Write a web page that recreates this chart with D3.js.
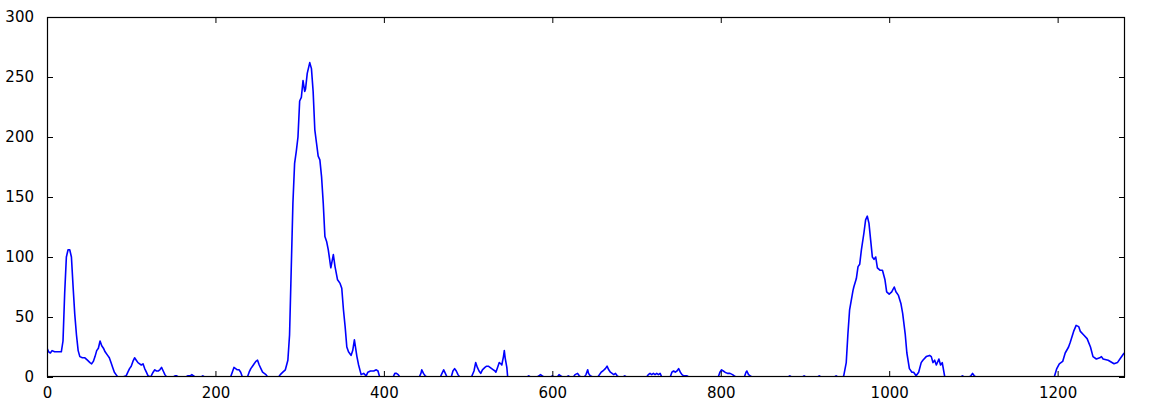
<!DOCTYPE html>
<html>
<head>
<meta charset="utf-8">
<script src="https://cdn.jsdelivr.net/npm/d3@7/dist/d3.min.js"></script>
<style>
  html, body { margin: 0; padding: 0; background: #fff; }
  svg { display: block; }
  text { font-family: "DejaVu Sans", sans-serif; font-size: 15px; fill: #000; }
</style>
</head>
<body>
<svg id="chart" width="1151" height="416"></svg>
<script>
// ---- data ----
const xValues = [
  0,2,4,6,9,13,17,19,21,23,25,27,29,31,33,35,37,39,42,45,48,51,53,55,57,59,61,63,65,67,69,72,74,76,78,80,82,84,90,94,96,98,100,102,104,106,108,110,112,114,116,118,120,123,126,128,130,132,134,136,138,140,142,
  146,150,152,154,156,165,167,170,172,174,176,183,185,187,218,220,222,224,226,228,230,232,238,240,242,244,246,248,250,252,254,256,258,260,262,275,
  277,280,283,286,288,290,292,294,296,298,300,302,304,306,307,309,312,314,316,318,320,322,324,326,328,330,332,334,337,340,342,345,348,350,352,354,356,358,361,363,365,368,370,373,376,379,381,384,388,391,393,395,
  411,413,415,417,419,442,444,445,447,449,451,467,469,471,473,475,480,482,484,486,488,490,504,507,509,511,513,515,517,520,522,524,526,528,530,532,533,535,537,539,540,542,543,544,546,547,
  570,572,574,582,584,586,588,590,598,600,602,606,608,610,612,617,619,621,625,627,630,632,634,
  638,640,642,643,645,648,654,656,658,660,663,665,667,669,671,673,675,677,679,684,686,688,712,714,716,718,720,722,724,726,728,730,740,742,744,746,748,750,752,754,756,760,762,797,799,801,803,805,808,811,814,816,818,828,830,831,833,835,837,880,882,884,897,899,901,915,917,919,935,937,939,945,
  946,949,951,953,957,958,961,963,965,967,970,972,974,976,978,980,982,984,986,989,992,995,997,1000,1003,1006,1008,1011,1014,1016,1019,1021,1024,1027,1029,1032,1035,1038,1040,1044,1048,1050,1052,1054,1056,1059,1061,1063,1066,
  1085,1087,1089,1095,1097,1099,1101,1103,1196,
  1199,1202,1206,1209,1213,1215,1219,1222,1225,1227,1231,1235,1239,1242,1246,1250,1252,1254,1260,1267,1271,1275,1279
];
const yValues = [
  24,21,20,22,21,21,21,30,70,100,106,106,100,75,52,35,22,17,16,16,14,12,11,13,17,22,24,30,26,24,21,18,16,12,8,4,2,0,0,1,4,7,9,13,16,14,12,11,10,11,7,4,1,0,4,6,5,5,6,8,5,2,0,
  0,0,1,1,0,0,1,1,2,1,0,0,1,0,0,4,8,7,6,6,4,0,0,4,7,9,11,13,14,10,7,4,3,2,0,0,
  2,4,6,14,35,90,145,178,188,200,230,233,247,238,240,253,262,257,238,206,195,184,181,167,145,117,113,106,91,102,92,81,78,74,56,42,25,21,18,22,31,17,10,2,3,1,4,5,5,6,5,0,
  0,3,3,2,0,0,3,6,3,1,0,0,3,6,3,0,0,5,7,5,2,0,0,5,12,8,5,3,6,8,9,9,8,7,6,5,4,8,12,11,10,17,22,16,8,0,
  0,1,0,0,1,2,1,0,0,1,0,0,2,1,0,0,1,0,0,2,3,1,0,
  0,2,6,3,1,0,0,2,4,5,7,9,6,4,3,2,3,1,0,0,1,0,0,2,3,2,3,2,3,2,3,0,0,4,5,4,5,7,4,2,1,1,0,0,4,6,5,4,3,3,2,1,0,0,4,5,2,1,0,0,1,0,0,1,0,0,1,0,0,1,0,0,
  1,12,36,56,72,75,82,92,94,106,120,131,134,128,114,100,98,100,91,89,89,81,71,69,71,75,71,68,61,53,36,20,7,4,4,1,4,12,14,17,18,17,12,14,10,15,10,12,0,
  0,1,0,0,1,3,1,0,0,
  7,11,13,20,25,29,38,43,42,38,35,32,25,17,15,16,17,15,14,11,12,16,20
];
const xTicks = [0, 200, 400, 600, 800, 1000, 1200];
const yTicks = [0, 50, 100, 150, 200, 250, 300];
const xDomain = [0, 1280];
const yDomain = [0, 300];

// ---- layout ----
const margin = { left: 47, top: 17, right: 1125, bottom: 377 };
const svg = d3.select("#chart");

const x = d3.scaleLinear().domain(xDomain).range([margin.left, margin.right]);
const y = d3.scaleLinear().domain(yDomain).range([margin.bottom, margin.top]);

svg.append("defs").append("clipPath").attr("id", "clip")
  .append("rect")
  .attr("x", margin.left).attr("y", margin.top)
  .attr("width", margin.right - margin.left)
  .attr("height", margin.bottom - margin.top);

const points = xValues.map((v, i) => [v, yValues[i]]);

const line = d3.line().x(d => x(d[0])).y(d => y(d[1]));

svg.append("path")
  .datum(points)
  .attr("clip-path", "url(#clip)")
  .attr("fill", "none")
  .attr("stroke", "#0000ff")
  .attr("stroke-width", 1.6)
  .attr("stroke-linejoin", "round")
  .attr("d", line);

// axes (inward ticks, classic style) on all four sides
const tickLen = 6;
const axB = d3.axisBottom(x).tickValues(xTicks).tickSizeInner(-tickLen).tickSizeOuter(0).tickPadding(10).tickFormat(d3.format("d"));
const axT = d3.axisTop(x).tickValues(xTicks).tickSizeInner(-tickLen).tickSizeOuter(0).tickFormat("");
const axL = d3.axisLeft(y).tickValues(yTicks).tickSizeInner(-tickLen).tickSizeOuter(0).tickPadding(13).tickFormat(d3.format("d"));
const axR = d3.axisRight(y).tickValues(yTicks).tickSizeInner(-tickLen).tickSizeOuter(0).tickFormat("");

function style(g) {
  g.select(".domain").remove();
  g.selectAll(".tick line").attr("stroke", "#000").attr("stroke-width", 1);
  g.selectAll(".tick text").attr("fill", "#000").style("font-family", "'DejaVu Sans', sans-serif").style("font-size", "15px");
}

svg.append("g").attr("transform", `translate(0,${margin.bottom})`).call(axB).call(style);
svg.append("g").attr("transform", `translate(0,${margin.top})`).call(axT).call(style);
svg.append("g").attr("transform", `translate(${margin.left},0)`).call(axL).call(style);
svg.append("g").attr("transform", `translate(${margin.right},0)`).call(axR).call(style);

// frame
svg.append("rect")
  .attr("x", margin.left + 0.5).attr("y", margin.top + 0.5)
  .attr("width", margin.right - margin.left - 1)
  .attr("height", margin.bottom - margin.top - 1)
  .attr("fill", "none").attr("stroke", "#000").attr("stroke-width", 1.2);
</script>
</body>
</html>
